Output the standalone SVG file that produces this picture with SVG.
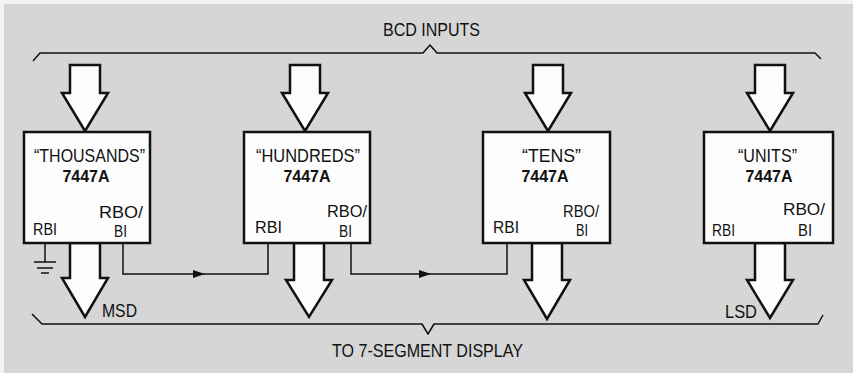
<svg xmlns="http://www.w3.org/2000/svg" width="853" height="373" viewBox="0 0 853 373">
<defs>
<style>
.bg{fill:#d6d6d6}
.box{fill:#fdfdfd;stroke:#111;stroke-width:2.5}
.bus{fill:#fdfdfd;stroke:#111;stroke-width:2.5;stroke-linejoin:miter}
.wire{fill:none;stroke:#111;stroke-width:1.5}
.brace{fill:none;stroke:#111;stroke-width:1.5;stroke-linejoin:round}
text{font-family:"Liberation Sans",Arial,sans-serif;fill:#111}
.lbl{font-size:18px}
.pin{font-size:17px}
.part{font-size:16px;font-weight:bold}
</style>
<marker id="arr" markerWidth="12" markerHeight="8" refX="12" refY="4" orient="auto" markerUnits="userSpaceOnUse">
<path d="M0,0 L12,4 L0,8 Z" fill="#111"/>
</marker>
</defs>
<rect x="0" y="0" width="853" height="373" fill="#f4f4f4"/>
<rect class="bg" x="4" y="4" width="849" height="369"/>

<g id="labels">
<text class="lbl" x="383" y="36" textLength="97" lengthAdjust="spacingAndGlyphs">BCD INPUTS</text>
<text class="lbl" x="332" y="357" textLength="191" lengthAdjust="spacingAndGlyphs">TO 7-SEGMENT DISPLAY</text>
<text class="lbl" x="102" y="317" textLength="35" lengthAdjust="spacingAndGlyphs">MSD</text>
<text class="lbl" x="725" y="318" textLength="32" lengthAdjust="spacingAndGlyphs">LSD</text>
</g>

<g id="connectors">
<path class="brace" d="M33,61 L40,53 H423 L430,45 L437,53 H815 L821,59"/>
<path class="brace" d="M32,314 L42,324 H422 L428,334 L434,324 H818 L823,315"/>
<path class="wire" d="M45,243 V262"/>
<path class="wire" d="M34,262 H56 M37,268 H53 M41,273 H49"/>
<path class="wire" d="M123,243 V274 H205" marker-end="url(#arr)"/>
<path class="wire" d="M205,274 H268 V243"/>
<path class="wire" d="M351,243 V274 H431" marker-end="url(#arr)"/>
<path class="wire" d="M431,274 H507 V243"/>
<path class="bus" d="M70,65 H100 V93 H108 L85,131 L62,93 H70 Z"/>
<path class="bus" d="M290,65 H320 V93 H328 L305,131 L282,93 H290 Z"/>
<path class="bus" d="M533,65 H563 V93 H571 L548,131 L525,93 H533 Z"/>
<path class="bus" d="M755,65 H785 V93 H793 L770,131 L747,93 H755 Z"/>
<path class="bus" d="M70,243 H100 V278 H108 L85,317 L62,278 H70 Z"/>
<path class="bus" d="M294,243 H324 V280 H332 L309,317 L286,280 H294 Z"/>
<path class="bus" d="M532,243 H562 V280 H570 L547,319 L524,280 H532 Z"/>
<path class="bus" d="M755,243 H785 V280 H793 L770,318 L747,280 H755 Z"/>
</g>

<g id="thousands">
<rect class="box" x="24" y="132" width="126" height="111"/>
<text class="lbl" x="34" y="162" textLength="111" lengthAdjust="spacingAndGlyphs">“THOUSANDS”</text>
<text class="part" x="86" y="182" text-anchor="middle">7447A</text>
<text class="pin" x="33" y="235" textLength="24" lengthAdjust="spacingAndGlyphs">RBI</text>
<text class="pin" x="99" y="218" textLength="44" lengthAdjust="spacingAndGlyphs">RBO/</text>
<text class="pin" x="114" y="237" textLength="13" lengthAdjust="spacingAndGlyphs">BI</text>
</g>

<g id="hundreds">
<rect class="box" x="244" y="132" width="126" height="111"/>
<text class="lbl" x="256" y="162" textLength="104" lengthAdjust="spacingAndGlyphs">“HUNDREDS”</text>
<text class="part" x="307" y="182" text-anchor="middle">7447A</text>
<text class="pin" x="255" y="233" textLength="27" lengthAdjust="spacingAndGlyphs">RBI</text>
<text class="pin" x="327" y="217" textLength="40" lengthAdjust="spacingAndGlyphs">RBO/</text>
<text class="pin" x="339" y="237" textLength="13" lengthAdjust="spacingAndGlyphs">BI</text>
</g>

<g id="tens">
<rect class="box" x="483" y="132" width="127" height="111"/>
<text class="lbl" x="522" y="162" textLength="59" lengthAdjust="spacingAndGlyphs">“TENS”</text>
<text class="part" x="545" y="182" text-anchor="middle">7447A</text>
<text class="pin" x="493" y="233" textLength="26" lengthAdjust="spacingAndGlyphs">RBI</text>
<text class="pin" x="563" y="217" textLength="36" lengthAdjust="spacingAndGlyphs">RBO/</text>
<text class="pin" x="576" y="236" textLength="12" lengthAdjust="spacingAndGlyphs">BI</text>
</g>

<g id="units">
<rect class="box" x="704" y="132" width="129" height="111"/>
<text class="lbl" x="738" y="162" textLength="59" lengthAdjust="spacingAndGlyphs">“UNITS”</text>
<text class="part" x="769" y="182" text-anchor="middle">7447A</text>
<text class="pin" x="712" y="236" textLength="23" lengthAdjust="spacingAndGlyphs">RBI</text>
<text class="pin" x="783" y="215" textLength="42" lengthAdjust="spacingAndGlyphs">RBO/</text>
<text class="pin" x="798" y="236" textLength="14" lengthAdjust="spacingAndGlyphs">BI</text>
</g>
</svg>
